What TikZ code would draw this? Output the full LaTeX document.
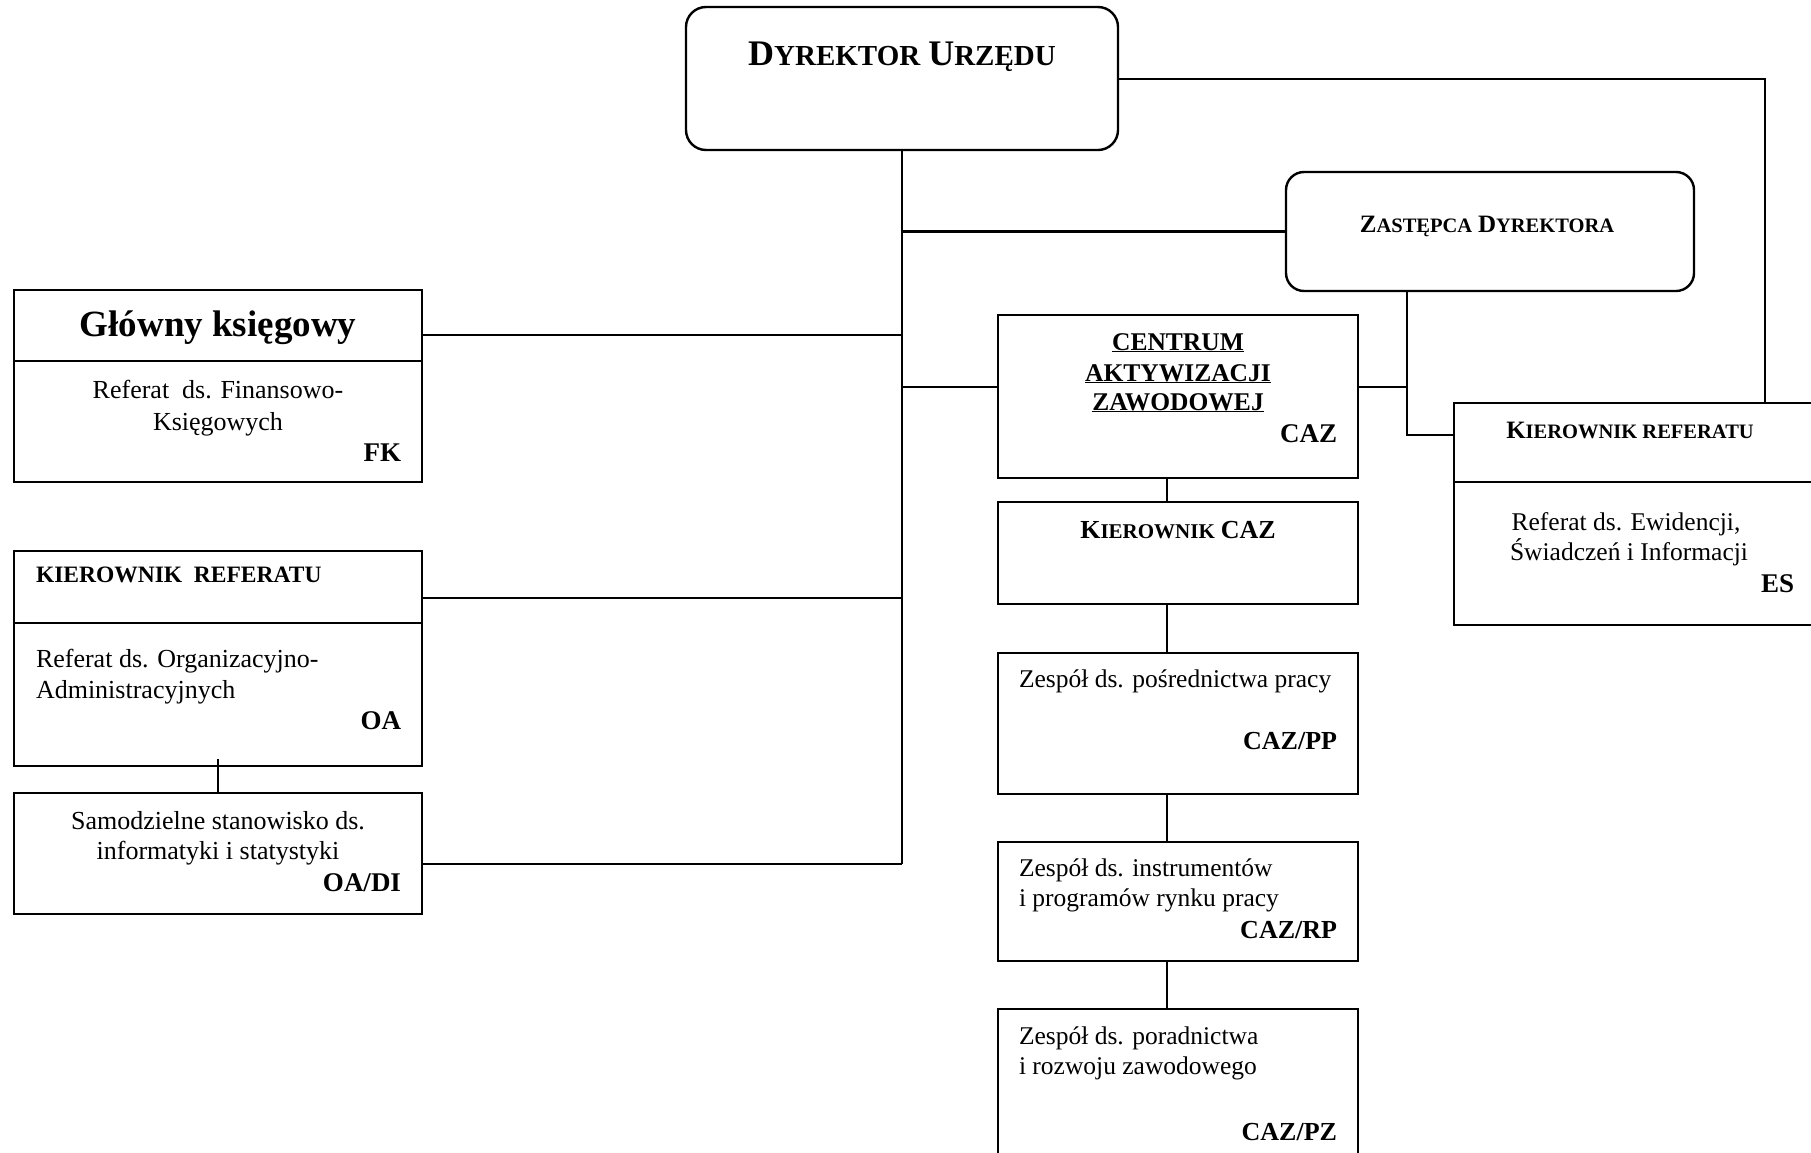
\documentclass[tikz,border=0pt]{standalone}
\usepackage{fontspec}
\setmainfont{Liberation Serif}
\newcommand\capsz[2]{{\fontsize{#1}{#1}\selectfont #2}}
\newcommand\ulw[1]{\underline{\smash{#1}}}
\begin{document}
\begin{tikzpicture}[x=1pt,y=-1pt,
  box/.style={draw, line width=2.4pt, rectangle, inner sep=0pt, outer sep=0pt, anchor=north west},
  rbox/.style={box, rounded corners=20pt},
  conn/.style={line width=2.4pt},
  thinconn/.style={line width=1.6pt},
  txt/.style={inner sep=0pt, outer sep=0pt, anchor=base, font=\fontsize{26}{29}\selectfont},
  txtl/.style={txt, anchor=base west},
  code/.style={txt, anchor=base east, font=\fontsize{27}{30}\selectfont\bfseries},
  zesp/.style={txtl, font=\fontsize{25.5}{29}\selectfont}
]
\useasboundingbox (0,0) rectangle (1811,1152);
\fill[white] (0,0) rectangle (1811,1152);
\clip (0,0) rectangle (1811,1152);

% boxes
\node[rbox, minimum width=432pt, minimum height=143pt] (dyr) at (686,7) {};
\node[rbox, rounded corners=18pt, minimum width=408pt, minimum height=119pt] (zast) at (1286,172) {};
\node[box, minimum width=408pt, minimum height=192pt] (glow) at (14,290) {};
\node[box, minimum width=408pt, minimum height=215pt] (oa) at (14,551) {};
\node[box, minimum width=408pt, minimum height=121pt] (oadi) at (14,793) {};
\node[box, minimum width=360pt, minimum height=163pt] (caz) at (998,315) {};
\node[box, minimum width=360pt, minimum height=102pt] (kcaz) at (998,502) {};
\node[box, minimum width=360pt, minimum height=141pt] (pp) at (998,653) {};
\node[box, minimum width=360pt, minimum height=119pt] (rp) at (998,842) {};
\node[box, minimum width=360pt, minimum height=170pt] (pz) at (998,1009) {};
\node[box, minimum width=380pt, minimum height=222pt] (es) at (1454,403) {};

% dividers
\draw[conn] ([yshift=-71pt]glow.north west) -- ([yshift=-71pt]glow.north east);
\draw[conn] ([yshift=-72pt]oa.north west) -- ([yshift=-72pt]oa.north east);
\draw[conn] ([yshift=-79pt]es.north west) -- ([yshift=-79pt]es.north east);

% junction coordinates
\coordinate (zd) at ([xshift=121pt]zast.south west);
\coordinate (trunkend) at ([yshift=-71pt]oadi.north east -| dyr.south);

% connectors
\draw[conn] (dyr.south) -- (trunkend);
\draw[conn] (zast.west) -- (zast.west -| dyr.south);
\draw[conn] ([yshift=-45pt]glow.north east) -- ([yshift=-45pt]glow.north east -| dyr.south);
\draw[conn] ([yshift=-47pt]oa.north east) -- ([yshift=-47pt]oa.north east -| dyr.south);
\draw[conn] ([yshift=-71pt]oadi.north east) -- (trunkend);
\draw[conn] ([yshift=-72pt]caz.north west) -- ([yshift=-72pt]caz.north west -| dyr.south);
\draw[conn] ([yshift=-72pt]caz.north east) -- ([yshift=-72pt]caz.north east -| zd);
\draw[conn] (zd) |- ([yshift=-32pt]es.north west);
\draw[conn] ([yshift=-72pt]dyr.north east) -| ([xshift=311pt]es.north west);
\draw[thinconn] ([yshift=7pt]oa.south) -- (oadi.north);
\draw[conn] ([xshift=169pt]caz.south west) -- ([xshift=169pt]kcaz.north west);
\draw[conn] ([xshift=169pt]kcaz.south west) -- ([xshift=169pt]pp.north west);
\draw[conn] ([xshift=169pt]pp.south west) -- ([xshift=169pt]rp.north west);
\draw[conn] ([xshift=169pt]rp.south west) -- ([xshift=169pt]pz.north west);

% texts
\node[txt, font=\fontsize{32}{36}\selectfont\bfseries] (tdyr) at (902,65) {\capsz{36}{D}\capsz{29}{YREKTOR} \capsz{36}{U}\capsz{29}{RZĘDU}};
\node[txt, font=\fontsize{23}{26}\selectfont\bfseries] (tzast) at (1487,232) {\capsz{25}{Z}\capsz{20.5}{ASTĘPCA} \capsz{25}{D}\capsz{20.5}{YREKTORA}};

\node[txt, font=\fontsize{37}{40}\selectfont\bfseries] (tglow) at (218,336) {Główny księgowy};
\node[txt] (tfk1) at (218,398) {Referat~ ds. Finansowo-};
\node[txt] (tfk2) at (218,430) {Księgowych};
\node[code] (tfk) at (401,461) {FK};

\node[txtl, font=\fontsize{23.5}{26}\selectfont\bfseries] (toak) at (36,582) {KIEROWNIK~ REFERATU};
\node[txtl] (toa1) at (36,667) {Referat ds. Organizacyjno-};
\node[txtl] (toa2) at (36,698) {Administracyjnych};
\node[code] (toa) at (401,729) {OA};

\node[txt] (tdi1) at (218,829) {Samodzielne stanowisko ds.};
\node[txt] (tdi2) at (218,859) {informatyki i statystyki};
\node[code] (tdi) at (401,891) {OA/DI};

\node[txt, font=\fontsize{25.5}{29}\selectfont\bfseries] (tcaz1) at (1178,350) {\ulw{CENTRUM}};
\node[txt, font=\fontsize{25.5}{29}\selectfont\bfseries] (tcaz2) at (1178,381) {\ulw{AKTYWIZACJI}};
\node[txt, font=\fontsize{25.5}{29}\selectfont\bfseries] (tcaz3) at (1178,410) {\ulw{ZAWODOWEJ}};
\node[code] (tcaz) at (1337,442) {CAZ};

\node[txt, font=\fontsize{24}{27}\selectfont\bfseries] (tkcaz) at (1178,538) {\capsz{26}{K}\capsz{21}{IEROWNIK} \capsz{26}{CAZ}};

\node[zesp] (tpp1) at (1019,687) {Zespół ds. pośrednictwa pracy};
\node[code, font=\fontsize{26}{30}\selectfont\bfseries] (tpp) at (1337,749) {CAZ/PP};

\node[zesp] (trp1) at (1019,876) {Zespół ds. instrumentów};
\node[zesp] (trp2) at (1019,906) {i programów rynku pracy};
\node[code, font=\fontsize{26}{30}\selectfont\bfseries] (trp) at (1337,938) {CAZ/RP};

\node[zesp] (tpz1) at (1019,1044) {Zespół ds. poradnictwa};
\node[zesp] (tpz2) at (1019,1074) {i rozwoju zawodowego};
\node[code, font=\fontsize{26}{30}\selectfont\bfseries] (tpz) at (1337,1140) {CAZ/PZ};

\node[txt, font=\fontsize{23}{26}\selectfont\bfseries] (tesk) at (1630,438) {\capsz{25}{K}\capsz{20.5}{IEROWNIK REFERATU}};
\node[txt, font=\fontsize{25.5}{29}\selectfont] (tes1) at (1626,530) {Referat ds. Ewidencji,};
\node[txt, font=\fontsize{25.5}{29}\selectfont] (tes2) at (1629,560) {Świadczeń i Informacji};
\node[code] (tes) at (1794,592) {ES};
\end{tikzpicture}
\end{document}
